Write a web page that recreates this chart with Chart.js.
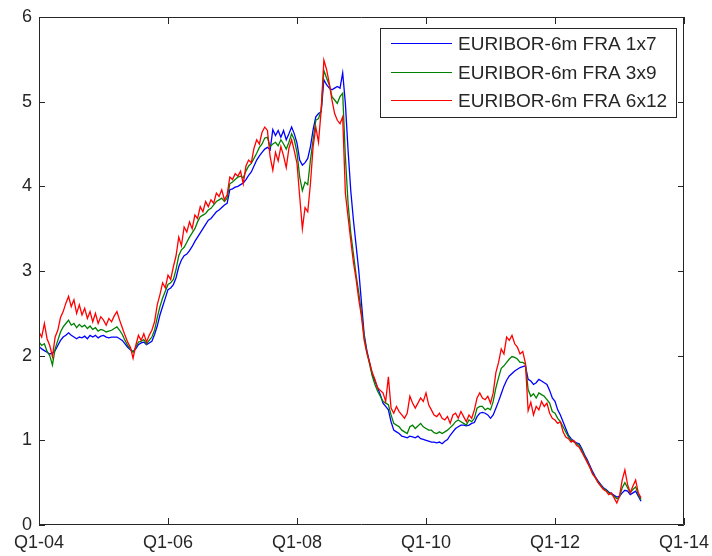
<!DOCTYPE html>
<html>
<head>
<meta charset="utf-8">
<script src="https://cdn.jsdelivr.net/npm/chart.js@4/dist/chart.umd.min.js"></script>
<style>
  html, body { margin: 0; padding: 0; background: #ffffff; }
  canvas { display: block; }
</style>
</head>
<body>
<canvas id="fraChart" width="712" height="556"></canvas>
<script>
// Semi-monthly fixings, first observation at the start of 2004
const firstYear = 2004;
const obsPerYear = 24;

// EURIBOR-6m FRA 1x7 (%), one row per calendar year
const fra1x7 = [
  2.11,2.08,2.06,2.04,2.02,2.03,2.06,2.12,2.18,2.22,2.24,2.27,2.24,2.22,2.20,2.22,2.21,2.23,2.20,2.24,2.22,2.24,2.21,2.23,
  2.24,2.22,2.21,2.22,2.22,2.22,2.20,2.18,2.14,2.10,2.07,2.05,2.08,2.13,2.15,2.16,2.13,2.15,2.17,2.25,2.35,2.48,2.58,2.68,
  2.78,2.80,2.84,2.92,3.05,3.13,3.18,3.20,3.24,3.29,3.35,3.40,3.45,3.50,3.55,3.60,3.62,3.66,3.70,3.72,3.75,3.78,3.80,3.96,
  3.97,3.99,4.00,4.02,4.04,4.08,4.13,4.17,4.24,4.31,4.36,4.40,4.44,4.46,4.43,4.67,4.60,4.66,4.58,4.66,4.55,4.62,4.70,4.62,
  4.51,4.31,4.25,4.28,4.33,4.47,4.67,4.82,4.86,4.88,5.26,5.20,5.16,5.14,5.16,5.18,5.16,5.34,4.98,4.43,3.95,3.60,3.30,3.00,
  2.62,2.25,2.06,1.92,1.78,1.70,1.62,1.54,1.44,1.40,1.36,1.22,1.12,1.10,1.08,1.05,1.04,1.03,1.05,1.04,1.03,1.05,1.02,1.01,
  1.00,0.99,0.98,0.98,0.97,0.98,0.96,0.99,1.01,1.06,1.10,1.14,1.16,1.18,1.18,1.17,1.18,1.20,1.21,1.28,1.32,1.33,1.32,1.30,
  1.26,1.30,1.38,1.46,1.55,1.64,1.71,1.76,1.79,1.82,1.84,1.86,1.87,1.88,1.72,1.70,1.66,1.68,1.72,1.70,1.68,1.66,1.59,1.50,
  1.46,1.36,1.30,1.22,1.14,1.06,1.02,0.99,0.97,0.96,0.90,0.83,0.77,0.70,0.63,0.57,0.52,0.48,0.44,0.42,0.39,0.37,0.35,0.33,
  0.34,0.38,0.41,0.40,0.36,0.38,0.40,0.34,0.28
];

// EURIBOR-6m FRA 3x9 (%)
const fra3x9 = [
  2.16,2.12,2.14,2.05,2.00,1.89,2.08,2.18,2.28,2.34,2.38,2.42,2.36,2.38,2.33,2.37,2.34,2.36,2.32,2.35,2.31,2.33,2.29,2.31,
  2.30,2.28,2.29,2.30,2.32,2.34,2.30,2.25,2.18,2.12,2.08,2.04,2.10,2.16,2.17,2.19,2.14,2.18,2.22,2.30,2.45,2.58,2.68,2.76,
  2.84,2.86,2.90,3.02,3.18,3.25,3.28,3.34,3.40,3.45,3.50,3.58,3.64,3.66,3.68,3.72,3.74,3.78,3.82,3.84,3.86,3.82,3.86,4.03,
  4.05,4.08,4.11,4.12,4.10,4.18,4.24,4.27,4.33,4.39,4.46,4.50,4.57,4.58,4.47,4.50,4.52,4.48,4.55,4.50,4.44,4.52,4.62,4.55,
  4.40,4.11,3.95,4.05,4.02,4.31,4.55,4.78,4.80,4.90,5.37,5.28,5.20,5.06,5.02,4.98,5.06,5.10,4.35,3.80,3.45,3.20,2.95,2.74,
  2.50,2.22,2.04,1.90,1.76,1.66,1.58,1.52,1.46,1.44,1.42,1.30,1.20,1.18,1.16,1.12,1.10,1.08,1.16,1.18,1.14,1.17,1.20,1.16,
  1.14,1.12,1.12,1.09,1.08,1.10,1.08,1.10,1.12,1.15,1.18,1.22,1.24,1.22,1.20,1.18,1.24,1.22,1.26,1.38,1.40,1.40,1.36,1.38,
  1.36,1.46,1.62,1.74,1.85,1.88,1.92,1.96,1.99,1.98,1.96,1.92,1.92,1.90,1.60,1.52,1.55,1.50,1.56,1.54,1.52,1.48,1.44,1.34,
  1.32,1.26,1.22,1.16,1.10,1.04,1.00,0.98,0.96,0.94,0.88,0.81,0.75,0.68,0.61,0.56,0.51,0.47,0.43,0.41,0.38,0.36,0.34,0.31,
  0.33,0.44,0.50,0.44,0.38,0.42,0.45,0.36,0.30
];

// EURIBOR-6m FRA 6x12 (%)
const fra6x12 = [
  2.28,2.22,2.38,2.20,2.12,1.99,2.22,2.30,2.45,2.52,2.62,2.70,2.58,2.66,2.50,2.60,2.48,2.56,2.44,2.52,2.40,2.50,2.38,2.46,
  2.42,2.36,2.44,2.40,2.47,2.52,2.42,2.33,2.24,2.16,2.10,1.97,2.12,2.24,2.18,2.26,2.16,2.24,2.30,2.40,2.60,2.72,2.86,2.80,
  2.95,2.90,3.05,3.18,3.40,3.30,3.52,3.46,3.58,3.50,3.66,3.62,3.76,3.70,3.82,3.76,3.84,3.80,3.92,3.88,3.96,3.84,3.90,4.11,
  4.08,4.15,4.12,4.18,4.03,4.24,4.31,4.28,4.45,4.55,4.50,4.64,4.70,4.66,4.35,4.19,4.40,4.30,4.47,4.36,4.22,4.45,4.55,4.42,
  4.27,3.88,3.50,3.75,3.70,4.03,4.47,4.70,4.52,4.90,5.49,5.38,5.22,5.02,4.86,4.78,4.74,4.82,3.92,3.64,3.36,3.10,2.90,2.66,
  2.46,2.18,2.03,1.92,1.80,1.72,1.62,1.59,1.56,1.46,1.75,1.38,1.32,1.40,1.34,1.30,1.26,1.32,1.52,1.44,1.38,1.44,1.50,1.46,
  1.56,1.42,1.36,1.30,1.28,1.32,1.26,1.24,1.28,1.20,1.30,1.32,1.26,1.34,1.28,1.22,1.30,1.26,1.36,1.50,1.56,1.50,1.48,1.52,
  1.44,1.56,1.80,1.92,2.08,2.02,2.22,2.18,2.24,2.14,2.10,2.02,2.05,1.91,1.35,1.45,1.30,1.40,1.36,1.46,1.40,1.44,1.32,1.26,
  1.24,1.20,1.22,1.10,1.04,1.02,0.98,1.00,0.94,0.92,0.86,0.80,0.74,0.68,0.60,0.56,0.50,0.46,0.42,0.40,0.36,0.38,0.32,0.26,
  0.34,0.53,0.65,0.48,0.38,0.46,0.53,0.38,0.32
];

const seriesLabels = ['EURIBOR-6m FRA 1x7', 'EURIBOR-6m FRA 3x9', 'EURIBOR-6m FRA 6x12'];
const seriesColors = ['#0000ff', '#008000', '#ff0000'];
const xTickYears = [2004, 2006, 2008, 2010, 2012, 2014];
const yTickValues = [0, 1, 2, 3, 4, 5, 6];

const FONT_FAMILY = '"Liberation Sans", Arial, Helvetica, sans-serif';
const INK = '#262626';

// decimal-year time stamp of each observation
const obsDates = fra1x7.map((_, i) => firstYear + i / obsPerYear);
const toPoints = vals => vals.map((v, i) => ({ x: obsDates[i], y: v }));

// Boxed axes with inward tick marks on all four sides
const boxedAxes = {
  id: 'boxedAxes',
  afterDatasetsDraw(chart) {
    const { ctx, chartArea: a, scales } = chart;
    ctx.save();
    ctx.strokeStyle = INK;
    ctx.lineWidth = 1;
    ctx.beginPath();
    ctx.rect(Math.round(a.left) + 0.5, Math.round(a.top) + 0.5,
             Math.round(a.right - a.left) - 1, Math.round(a.bottom - a.top) - 1);
    ctx.stroke();
    ctx.beginPath();
    xTickYears.forEach(v => {
      const px = Math.round(scales.x.getPixelForValue(v)) + 0.5;
      ctx.moveTo(px, a.bottom); ctx.lineTo(px, a.bottom - 7);
      ctx.moveTo(px, a.top); ctx.lineTo(px, a.top + 7);
    });
    yTickValues.forEach(v => {
      const py = Math.round(scales.y.getPixelForValue(v)) + 0.5;
      ctx.moveTo(a.left, py); ctx.lineTo(a.left + 6, py);
      ctx.moveTo(a.right, py); ctx.lineTo(a.right - 6, py);
    });
    ctx.stroke();
    ctx.restore();
  }
};

// Legend drawn inside the axes, top-right, with a framed white box
const insetLegend = {
  id: 'insetLegend',
  afterDraw(chart) {
    const { ctx, chartArea: a } = chart;
    const ds = chart.data.datasets;
    ctx.save();
    ctx.font = '19px ' + FONT_FAMILY;
    const textW = Math.max(...ds.map(d => ctx.measureText(d.label).width));
    const padL = 11, sampleW = 61, gap = 6, padR = 10, rowH = 28.5;
    const w = padL + sampleW + gap + textW + padR;
    const h = 90;
    const right = Math.round(a.right) - 7;
    const left = Math.round(right - w);
    const top = Math.round(a.top) + 11;
    ctx.fillStyle = '#ffffff';
    ctx.fillRect(left, top, right - left, h);
    ctx.strokeStyle = INK;
    ctx.lineWidth = 1;
    ctx.strokeRect(left + 0.5, top + 0.5, right - left - 1, h - 1);
    ds.forEach((d, i) => {
      const cy = Math.round(top + 15 + i * rowH) + 0.5;
      ctx.strokeStyle = d.borderColor;
      ctx.lineWidth = 1;
      ctx.beginPath();
      ctx.moveTo(left + padL, cy);
      ctx.lineTo(left + padL + sampleW, cy);
      ctx.stroke();
      ctx.fillStyle = INK;
      ctx.textBaseline = 'middle';
      ctx.textAlign = 'left';
      ctx.fillText(d.label, left + padL + sampleW + gap, cy + 1);
    });
    ctx.restore();
  }
};

const seriesValues = [fra1x7, fra3x9, fra6x12];

new Chart(document.getElementById('fraChart'), {
  type: 'line',
  data: {
    datasets: seriesValues.map((vals, i) => ({
      label: seriesLabels[i],
      data: toPoints(vals),
      borderColor: seriesColors[i],
      backgroundColor: seriesColors[i],
      borderWidth: 1.3,
      pointRadius: 0,
      tension: 0,
      fill: false,
      order: seriesValues.length - i
    }))
  },
  options: {
    responsive: false,
    animation: false,
    events: [],
    layout: { padding: { top: 17, right: 28, left: 0, bottom: 0 } },
    plugins: {
      legend: { display: false },
      tooltip: { enabled: false }
    },
    scales: {
      x: {
        type: 'linear',
        min: 2004,
        max: 2014,
        grid: { display: false, drawTicks: false },
        border: { display: false },
        afterBuildTicks: s => { s.ticks = xTickYears.map(v => ({ value: v })); },
        afterFit: s => { s.height = 31; s.paddingLeft = 0; s.paddingRight = 0; },
        ticks: {
          color: INK,
          font: { family: FONT_FAMILY, size: 18 },
          padding: 7,
          maxRotation: 0,
          autoSkip: false,
          callback: v => 'Q1-' + String(v).slice(2)
        }
      },
      y: {
        min: 0,
        max: 6,
        grid: { display: false, drawTicks: false },
        border: { display: false },
        afterBuildTicks: s => { s.ticks = yTickValues.map(v => ({ value: v })); },
        afterFit: s => { s.width = 39; s.paddingTop = 0; s.paddingBottom = 0; },
        ticks: {
          color: INK,
          font: { family: FONT_FAMILY, size: 18 },
          padding: 7,
          callback: v => String(v)
        }
      }
    }
  },
  plugins: [boxedAxes, insetLegend]
});
</script>
</body>
</html>
